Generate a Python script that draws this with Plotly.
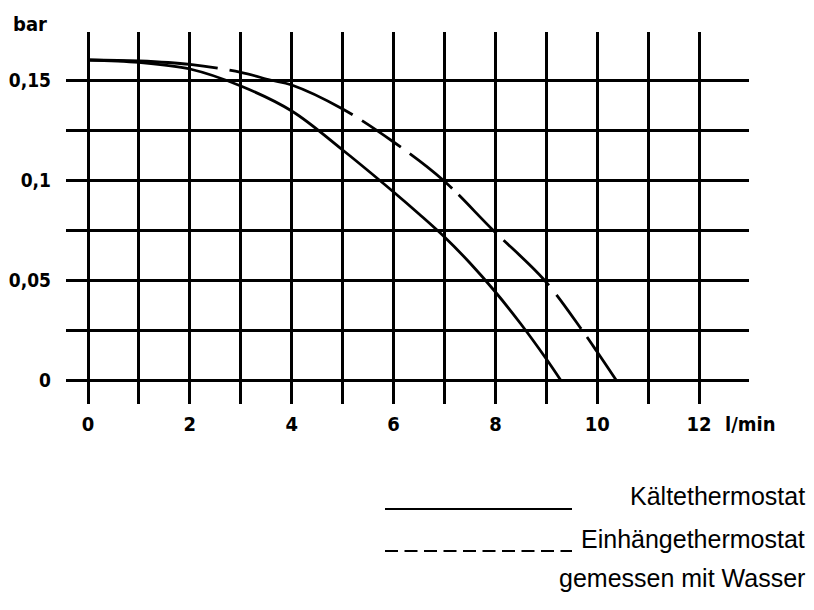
import plotly.graph_objects as go

# ---- data ----
x_kaelte = [0, 1, 2, 3, 4, 5, 6, 6.5, 7, 7.5, 8, 8.5, 9, 9.28]
y_kaelte = [0.160, 0.1588, 0.1555, 0.147, 0.1345, 0.115, 0.094, 0.083, 0.0715, 0.0585,
            0.044, 0.028, 0.0105, 0.0]

x_einh = [0, 1, 2, 3, 3.58, 4, 5, 6, 6.97, 7.95, 8.96, 9.7, 10, 10.37]
y_einh = [0.160, 0.1595, 0.1578, 0.1538, 0.150, 0.1475, 0.1355, 0.119, 0.100,
          0.075, 0.050, 0.025, 0.014, 0.0]

x_tickvals = list(range(0, 13))
x_ticktext = [str(v) if v % 2 == 0 else "" for v in x_tickvals]
y_tickvals = [0, 0.025, 0.05, 0.075, 0.1, 0.125, 0.15]
y_ticktext = ["0", "", "0,05", "", "0,1", "", "0,15"]

legend_names = ["Kältethermostat", "Einhängethermostat"]
note_text = "gemessen mit Wasser"
x_unit = "l/min"
y_unit = "bar"

# ---- layout helpers (reference pixel coords; page body has an 8px margin) ----
OFF = 8
W, H = 814 - OFF, 610 - OFF
L, R, T, B = 66, 749, 32, 404   # plot area in reference pixels


def px(x):
    return (x - L) / (R - L)


def py(y):
    return (B - y) / (B - T)


tick_font = dict(family="DejaVu Sans Condensed, DejaVu Sans, sans-serif",
                 size=19, color="black", weight="bold")
axis_font = dict(family="DejaVu Sans Condensed, DejaVu Sans, sans-serif",
                 size=20, color="black", weight="bold")
text_font = dict(family="Liberation Sans, Arial, sans-serif", size=25, color="black")

fig = go.Figure()
fig.add_trace(go.Scatter(x=x_kaelte, y=y_kaelte, mode="lines", name=legend_names[0],
                         line=dict(color="black", width=2.8, shape="spline", smoothing=1.0),
                         showlegend=False))
fig.add_trace(go.Scatter(x=x_einh, y=y_einh, mode="lines", name=legend_names[1],
                         line=dict(color="black", width=2.8, shape="spline", smoothing=1.0,
                                   dash="130px,12px,132px,11px,47px,11px,55px,9px,54px,10px,64px,12px,42px,10px,80px"),
                         showlegend=False))

fig.update_layout(
    width=W, height=H,
    margin=dict(l=L - OFF, r=W - (R - OFF), t=T - OFF, b=H - (B - OFF), pad=0, autoexpand=False),
    paper_bgcolor="white", plot_bgcolor="white",
    showlegend=False,
    xaxis=dict(range=[-0.433, 12.98], tickvals=x_tickvals, ticktext=x_ticktext,
               showgrid=True, gridcolor="black", gridwidth=2.7, zeroline=False,
               showline=False, ticks="", tickfont=axis_font, ticklabelstandoff=6,
               automargin=False),
    yaxis=dict(range=[-0.012, 0.174], tickvals=y_tickvals, ticktext=y_ticktext,
               showgrid=True, gridcolor="black", gridwidth=2.7, zeroline=False,
               showline=False, ticks="", tickfont=tick_font, ticklabelstandoff=14,
               automargin=False),
)

annotations = [
    dict(x=px(30), y=py(24), xref="paper", yref="paper", text=y_unit, showarrow=False,
         font=axis_font, xanchor="center", yanchor="middle"),
    dict(x=px(750), y=py(424), xref="paper", yref="paper", text=x_unit, showarrow=False,
         font=axis_font, xanchor="center", yanchor="middle"),
    dict(x=px(807), y=py(496), xref="paper", yref="paper", text=legend_names[0], showarrow=False,
         font=text_font, xanchor="right", yanchor="middle"),
    dict(x=px(807), y=py(539), xref="paper", yref="paper", text=legend_names[1], showarrow=False,
         font=text_font, xanchor="right", yanchor="middle"),
    dict(x=px(807), y=py(578), xref="paper", yref="paper", text=note_text, showarrow=False,
         font=text_font, xanchor="right", yanchor="middle"),
]
fig.update_layout(annotations=annotations)

fig.add_shape(type="line", xref="paper", yref="paper", x0=px(385), x1=px(572),
              y0=py(509), y1=py(509), line=dict(color="black", width=2.2))
fig.add_shape(type="line", xref="paper", yref="paper", x0=px(385), x1=px(572),
              y0=py(551), y1=py(551), line=dict(color="black", width=2.2, dash="13px,6.5px"))

fig.write_html("out.html")
